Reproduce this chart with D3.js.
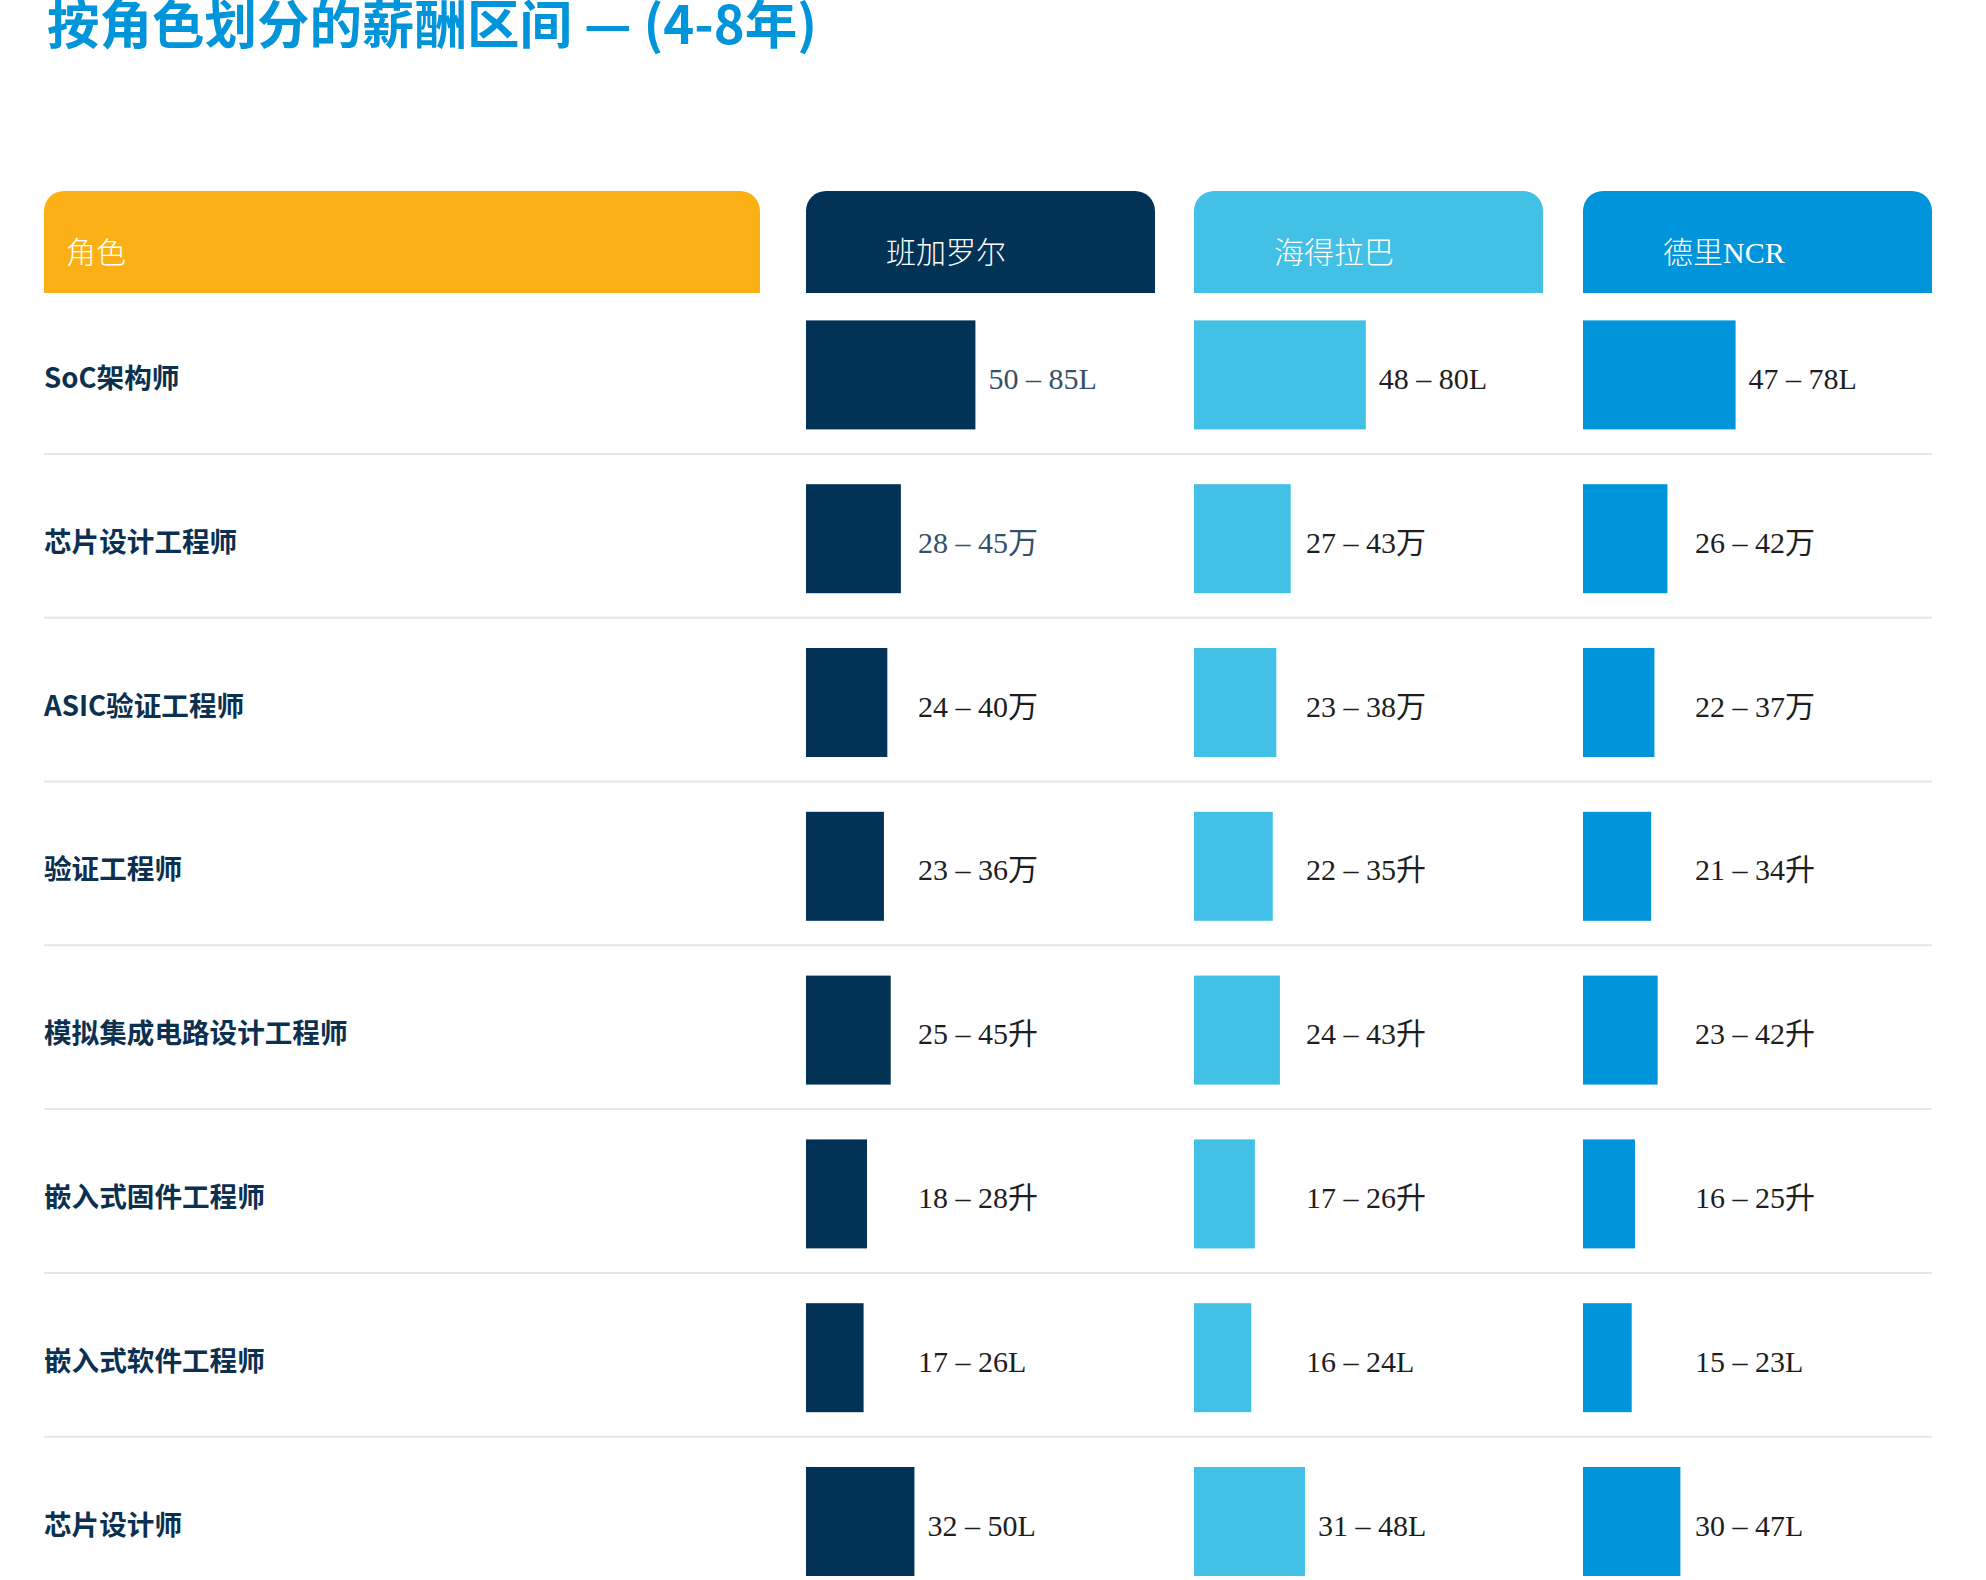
<!DOCTYPE html>
<html>
<head>
<meta charset="utf-8">
<script src="https://cdn.jsdelivr.net/npm/d3@7"></script>
<style>
  body { margin: 0; background: #fff; }
  svg { display: block; }
</style>
</head>
<body>
<div id="chart"></div>
<script>
"use strict";

// Data
var title = "按角色划分的薪酬区间 — (4-8年)";
var roleHeader = "角色";
var cities = ["班加罗尔", "海得拉巴", "德里NCR"];
var roles = ["SoC架构师", "芯片设计工程师", "ASIC验证工程师", "验证工程师",
             "模拟集成电路设计工程师", "嵌入式固件工程师", "嵌入式软件工程师", "芯片设计师"];
var lowBangalore  = [50, 28, 24, 23, 25, 18, 17, 32];
var highBangalore = [85, 45, 40, 36, 45, 28, 26, 50];
var lowHyderabad  = [48, 27, 23, 22, 24, 17, 16, 31];
var highHyderabad = [80, 43, 38, 35, 43, 26, 24, 48];
var lowDelhi      = [47, 26, 22, 21, 23, 16, 15, 30];
var highDelhi     = [78, 42, 37, 34, 42, 25, 23, 47];
var unitBangalore = ["L", "万", "万", "万", "升", "升", "L", "L"];
var unitHyderabad = ["L", "万", "万", "升", "升", "升", "L", "L"];
var unitDelhi     = ["L", "万", "万", "升", "升", "升", "L", "L"];

var lows = [lowBangalore, lowHyderabad, lowDelhi];
var highs = [highBangalore, highHyderabad, highDelhi];
var units = [unitBangalore, unitHyderabad, unitDelhi];

// Layout
var width = 1986, height = 1580;
var cityColors = ["#023356", "#42c0e6", "#0095da"];
var roleColor = "#fbb116";
var colLeft = [806, 1194, 1583];
var colWidth = 349;
var scaleMax = [103, 97.5, 107.5];
var headerTop = 191, headerHeight = 102;
var rowPitch = 163.8, barHeight = 109;
var serif = "'Liberation Serif', 'Noto Sans CJK SC', serif";
var sans = "'Noto Sans CJK SC', 'Noto Sans', sans-serif";

var svg = d3.select("#chart").append("svg")
  .attr("width", width)
  .attr("height", height);

// Title
svg.append("text")
  .attr("x", 47)
  .attr("y", 44)
  .attr("font-family", sans)
  .attr("font-weight", "bold")
  .attr("font-size", 52.5)
  .attr("fill", "#0095da")
  .text(title);

// header box with rounded top corners
function topRounded(x, y, w, h, r) {
  var p = d3.path();
  p.moveTo(x, y + h);
  p.lineTo(x, y + r);
  p.arcTo(x, y, x + r, y, r);
  p.lineTo(x + w - r, y);
  p.arcTo(x + w, y, x + w, y + r, r);
  p.lineTo(x + w, y + h);
  p.closePath();
  return p.toString();
}

svg.append("path")
  .attr("d", topRounded(44, headerTop, 716, headerHeight, 20))
  .attr("fill", roleColor);
svg.append("text")
  .attr("x", 66)
  .attr("y", headerTop + 72)
  .attr("font-family", serif)
  .attr("font-weight", 300)
  .attr("font-size", 30)
  .attr("fill", "#fff")
  .text(roleHeader);

var heads = svg.append("g").selectAll("g")
  .data(cities)
  .enter()
  .append("g");
heads.append("path")
  .attr("d", (d, j) => topRounded(colLeft[j], headerTop, colWidth, headerHeight, 20))
  .attr("fill", (d, j) => cityColors[j]);
heads.append("text")
  .attr("x", (d, j) => colLeft[j] + 80)
  .attr("y", headerTop + 72)
  .attr("font-family", serif)
  .attr("font-weight", 300)
  .attr("font-size", 30)
  .attr("fill", "#fff")
  .text(d => d);

// Rows
var y = d3.scaleBand()
  .domain(roles)
  .range([headerTop + headerHeight, headerTop + headerHeight + rowPitch * roles.length])
  .padding(0);

var xScales = scaleMax.map(m => d3.scaleLinear().domain([0, m]).range([0, colWidth]));

var rows = svg.append("g").selectAll("g.row")
  .data(roles)
  .enter()
  .append("g")
  .attr("class", "row")
  .attr("transform", d => `translate(0, ${y(d) + y.bandwidth() / 2})`);

// separators
rows.filter((d, i) => i < roles.length - 1)
  .append("line")
  .attr("x1", 44)
  .attr("x2", 1932)
  .attr("y1", 79)
  .attr("y2", 79)
  .attr("stroke", "#e6e6e6")
  .attr("stroke-width", 2);

// role names
rows.append("text")
  .attr("x", 44)
  .attr("y", 13)
  .attr("font-family", sans)
  .attr("font-weight", "bold")
  .attr("font-size", 27.6)
  .attr("fill", "#0c3050")
  .text(d => d);

// bars and labels per city
cities.forEach(function (city, j) {
  var x = xScales[j];
  rows.append("rect")
    .attr("x", colLeft[j])
    .attr("y", -barHeight / 2)
    .attr("width", (d, i) => x(lows[j][i]))
    .attr("height", barHeight)
    .attr("fill", cityColors[j]);

  rows.append("text")
    .attr("x", (d, i) => Math.max(colLeft[j] + x(lows[j][i]) + 13, colLeft[j] + 112))
    .attr("y", 14)
    .attr("font-family", serif)
    .attr("font-size", 30)
    .attr("fill", (d, i) => (j === 0 && i < 2) ? "#34506b" : "#1e1e1e")
    .text((d, i) => lows[j][i] + " – " + highs[j][i] + units[j][i]);
});
</script>
</body>
</html>
